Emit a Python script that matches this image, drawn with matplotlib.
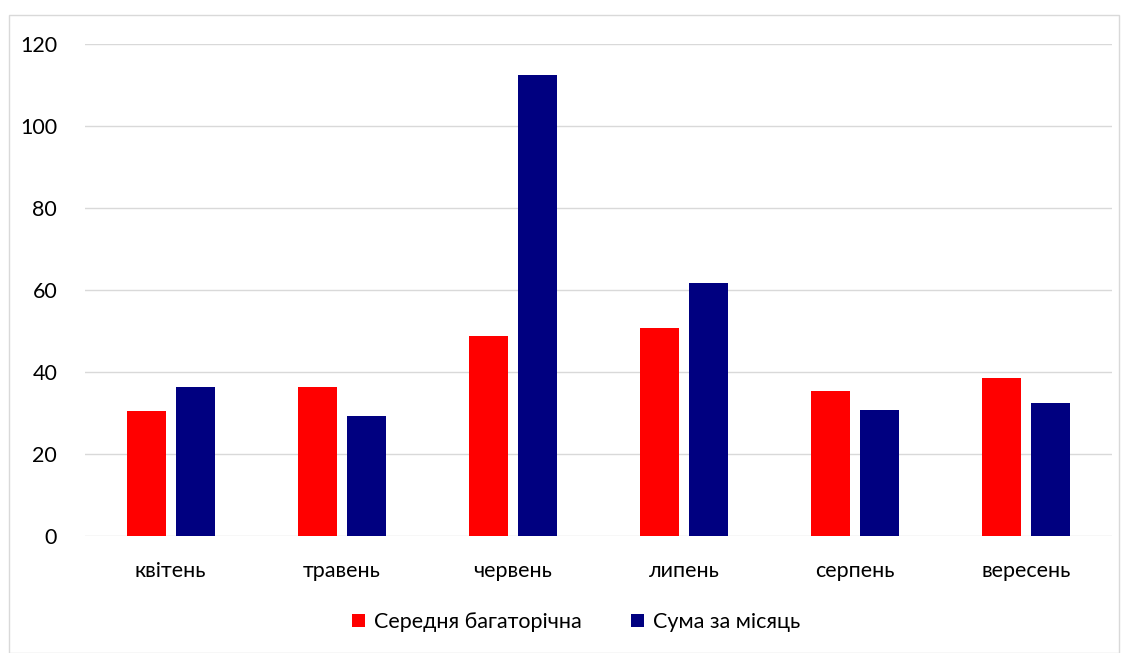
import numpy as np
import matplotlib.pyplot as plt
from matplotlib.patches import Rectangle

plt.rcParams['font.family'] = ['Lato', 'DejaVu Sans']

# Дані
months = ['квітень', 'травень', 'червень', 'липень', 'серпень', 'вересень']
norm = [30.5, 36.3, 48.8, 50.7, 35.4, 38.5]
monthly_sum = [36.3, 29.3, 112.4, 61.7, 30.7, 32.4]
series_names = ['Середня багаторічна', 'Сума за місяць']

W, H = 1128, 653
fig = plt.figure(figsize=(W / 100, H / 100), dpi=100)

# Рамка діаграми
fig.patches.append(Rectangle((9 / W, 0), (1119 - 9) / W, (H - 15) / H,
                             transform=fig.transFigure, fill=False,
                             edgecolor='#d9d9d9', linewidth=1))

ax = fig.add_axes([85 / W, 1 - 536 / H, (1112 - 85) / W, (536 - 44) / H])

x = np.arange(len(months))
bw = 0.228
off = 0.143
ax.bar(x - off, norm, bw, color='#ff0000', label=series_names[0], zorder=3)
ax.bar(x + off, monthly_sum, bw, color='#000080', label=series_names[1], zorder=3)

ax.set_xlim(-0.5, len(months) - 0.5)
ax.set_ylim(0, 120)
ax.set_yticks(range(0, 121, 20))
ax.set_xticks(x)
ax.set_xticklabels(months)
ax.grid(axis='y', color='#d9d9d9', linewidth=1, zorder=0)
for s in ax.spines.values():
    s.set_visible(False)
ax.tick_params(axis='both', length=0, labelsize=15.5, colors='#000000')
ax.tick_params(axis='x', pad=18)
ax.tick_params(axis='y', pad=20)

fig.legend(loc='center', bbox_to_anchor=(576 / W, 1 - 622 / H), ncol=2,
           frameon=False, fontsize=15.5, handlelength=0.6, handleheight=0.6,
           handletextpad=0.4, columnspacing=2.3)

fig.savefig('out.png', dpi=100)
